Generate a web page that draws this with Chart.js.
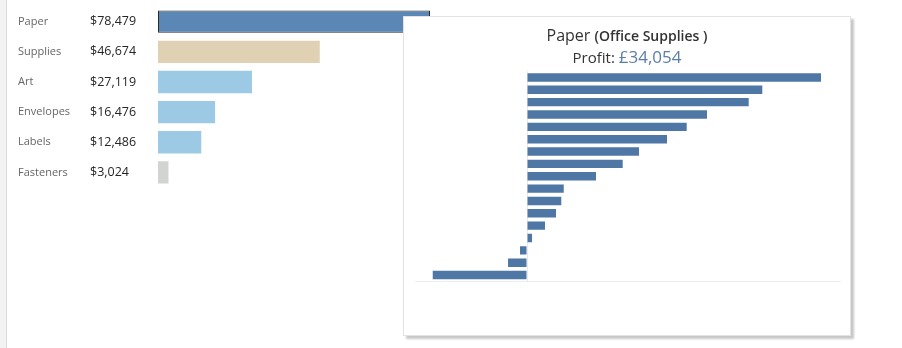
<!DOCTYPE html>
<html>
<head>
<meta charset="utf-8">
<script src="https://cdn.jsdelivr.net/npm/chart.js@4"></script>
<style>
  html, body { margin: 0; padding: 0; background: #fff; }
  body { width: 902px; height: 348px; position: relative; overflow: hidden; font-family: "Open Sans", sans-serif; }
  #edge { position: absolute; left: 0; top: 0; width: 6px; height: 348px; background: #f3f3f3; border-right: 1px solid #dcdcdc; }
  #main { position: absolute; left: 0; top: 0; z-index: 1; }
  #card { position: absolute; left: 403px; top: 16px; width: 446px; height: 318px; background: #fff;
          border: 1px solid #e2e2e2; box-shadow: 3px 3px 2px rgba(0,0,0,0.22); z-index: 2; }
  #detail { position: absolute; left: 404px; top: 68px; z-index: 3; }
  .head { position: absolute; left: 403px; width: 448px; text-align: center; color: #333; z-index: 3; line-height: 20px; white-space: pre; }
  #h1 { top: 25px; font-size: 16px; }
  #h1 b { font-size: 14px; font-weight: 600; }
  #h2 { top: 47px; font-size: 15px; }
  #h2 span { font-size: 17px; color: #5a7ea8; }
</style>
</head>
<body>
<div id="edge"></div>
<canvas id="main" width="902" height="348"></canvas>
<div id="card"></div>
<div class="head" id="h1">Paper <b>(Office Supplies )</b></div>
<div class="head" id="h2">Profit: <span>£34,054</span></div>
<canvas id="detail" width="445" height="220"></canvas>
<script>
// Sales by sub-category
const categories = ['Paper', 'Supplies', 'Art', 'Envelopes', 'Labels', 'Fasteners'];
const sales = [78479, 46674, 27119, 16476, 12486, 3024];

// Profit breakdown for the highlighted sub-category (Paper), sorted
const paperProfit = [6630, 5306, 4999, 4059, 3601, 3157, 2526, 2158, 1556, 828, 773, 654, 406, 113, -158, -428, -2126];
const paperRows = paperProfit.map((_, i) => 'row ' + (i + 1));

const barFill = ['#5a87b5', '#e0d1b5', '#9ccae4', '#9ccae4', '#9ccae4', '#d2d4d1'];

const fmtUSD = v => '$' + v.toLocaleString('en-US');

// draws the sales figure column next to the category names
const valueColumn = {
  id: 'valueColumn',
  afterDatasetsDraw(chart) {
    const { ctx } = chart;
    const y = chart.scales.y;
    ctx.save();
    ctx.font = '12.5px "Open Sans"';
    ctx.fillStyle = '#262626';
    ctx.textAlign = 'left';
    ctx.textBaseline = 'middle';
    sales.forEach((v, i) => ctx.fillText(fmtUSD(v), 90, y.getPixelForValue(i)));
    ctx.restore();
  }
};

new Chart(document.getElementById('main'), {
  type: 'bar',
  data: {
    labels: categories,
    datasets: [{
      data: sales,
      backgroundColor: barFill,
      borderColor: categories.map((_, i) => i === 0 ? '#2a2a2a' : 'rgba(0,0,0,0)'),
      borderWidth: categories.map((_, i) => i === 0 ? 1 : 0),
      borderSkipped: false,
      barPercentage: 0.74,
      categoryPercentage: 1
    }]
  },
  options: {
    indexAxis: 'y',
    responsive: false,
    animation: false,
    layout: { padding: { left: 18, top: 1.5, bottom: 160.5, right: 462 } },
    plugins: { legend: { display: false }, tooltip: { enabled: false } },
    scales: {
      x: { display: false, min: 0, max: 81364 },
      y: {
        grid: { display: false },
        border: { display: false },
        ticks: { crossAlign: 'far', padding: 0, color: '#666', font: { family: 'Open Sans', size: 11 } },
        afterFit(s) { s.width = 140; }
      }
    }
  },
  plugins: [valueColumn]
});

new Chart(document.getElementById('detail'), {
  type: 'bar',
  data: {
    labels: paperRows,
    datasets: [{
      data: paperProfit,
      backgroundColor: '#4e77a5',
      barPercentage: 0.68,
      categoryPercentage: 1
    }]
  },
  options: {
    indexAxis: 'y',
    responsive: false,
    animation: false,
    layout: { padding: { left: 11, right: 9, top: 3.3, bottom: 6.8 } },
    plugins: { legend: { display: false }, tooltip: { enabled: false } },
    scales: {
      x: {
        min: -2526, max: 7058,
        afterBuildTicks(s) { s.ticks = [{ value: 0 }]; },
        afterFit(s) { s.height = 0; },
        ticks: { display: false },
        grid: { color: '#e9e9e9', drawTicks: false },
        border: { display: true, color: '#ededed' }
      },
      y: { display: false }
    }
  }
});
</script>
</body>
</html>
